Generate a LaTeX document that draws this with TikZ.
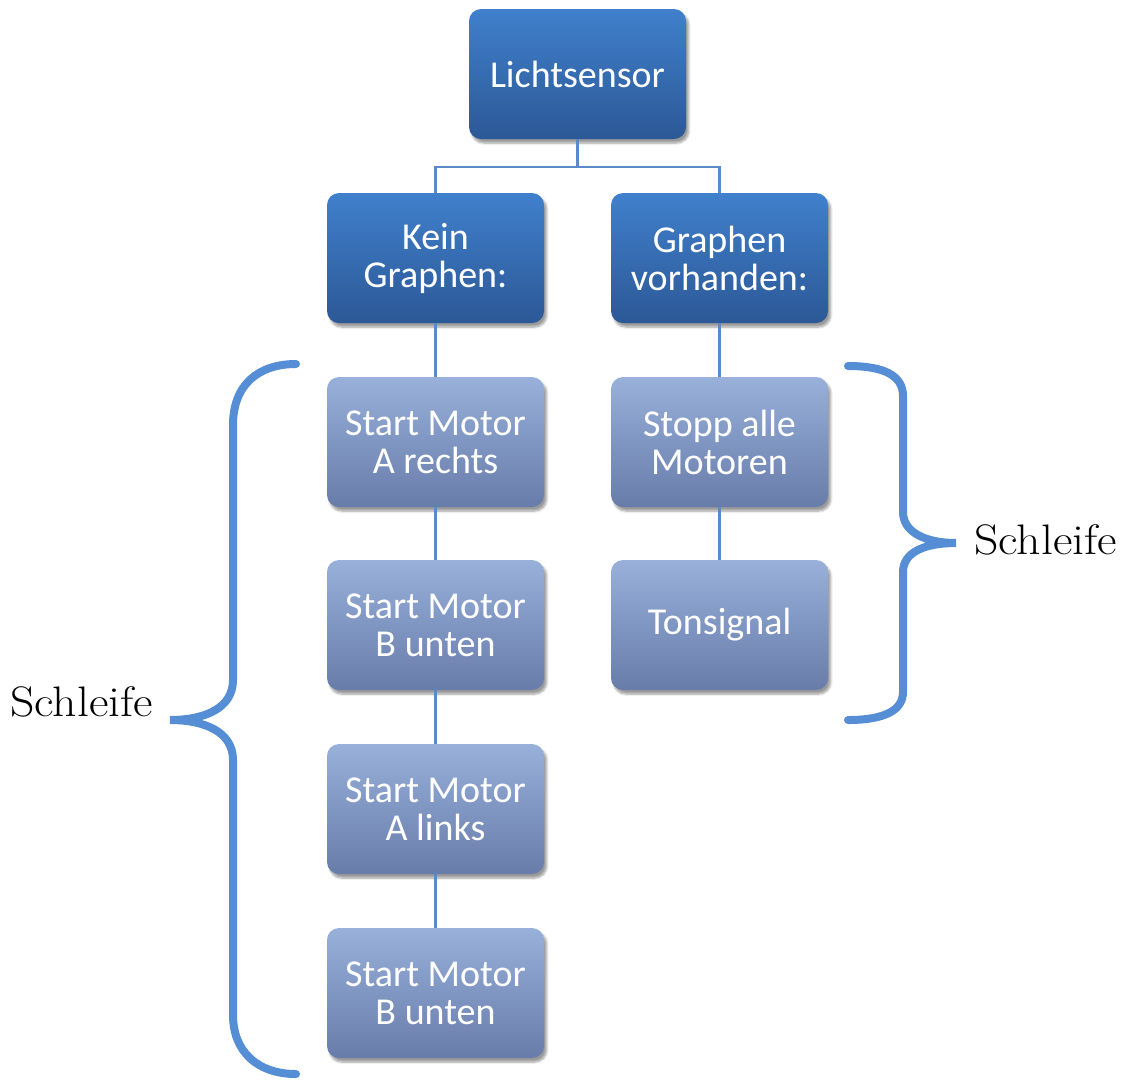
\documentclass[tikz,border=0pt]{standalone}
\usepackage{fontspec}
\usepackage{graphicx}
\newfontfamily\boxfont{Carlito}
\usetikzlibrary{shadows,shadows.blur}
\definecolor{topA}{RGB}{64,128,204}
\definecolor{botA}{RGB}{44,88,150}
\definecolor{topB}{RGB}{152,176,218}
\definecolor{botB}{RGB}{104,124,170}
\definecolor{linkc}{RGB}{90,138,200}
\definecolor{bracec}{RGB}{85,142,213}
\tikzset{
  basebox/.style={rounded corners=9pt, minimum width=162.75pt, minimum height=97.5pt,
    text=white, align=center, inner sep=0pt,
    font=\boxfont\fontsize{28.5}{28.5}\selectfont,
    blur shadow={shadow xshift=2pt, shadow yshift=-3pt, shadow blur steps=6, shadow opacity=40}},
  darkbox/.style={basebox, top color=topA, bottom color=botA},
  lightbox/.style={basebox, top color=topB, bottom color=botB},
  link/.style={draw=linkc, line width=2.2pt},
  bracel/.style={draw=bracec, line width=6pt, line cap=round},
  lbl/.style={font=\fontsize{32}{36}\selectfont, inner sep=0pt}
}
\begin{document}
\begin{tikzpicture}[x=0.75pt,y=-0.75pt]
\useasboundingbox (0,0) rectangle (1130,1079);
% nodes
\node[darkbox] (ls) at (577.5,74) {Lichtsensor};
\node[darkbox] (kg) at (435.5,258) {Kein\\Graphen:};
\node[darkbox] (gv) at (719.5,258) {Graphen\\vorhanden:};
\node[lightbox] (a1) at (435.5,442) {Start Motor\\A rechts};
\node[lightbox] (b1) at (435.5,625) {Start Motor\\B unten};
\node[lightbox] (a2) at (435.5,809) {Start Motor\\A links};
\node[lightbox] (b2) at (435.5,993) {Start Motor\\B unten};
\node[lightbox] (st) at (719.5,442) {Stopp alle\\Motoren};
\node[lightbox] (ts) at (719.5,625) {Tonsignal};
% connectors
\coordinate (j) at (577.5,167);
\draw[link] (ls.south) -- (j);
\draw[link] (j) -| (kg.north);
\draw[link] (j) -| (gv.north);
\draw[link] (kg.south) -- (a1.north);
\draw[link] (a1.south) -- (b1.north);
\draw[link] (b1.south) -- (a2.north);
\draw[link] (a2.south) -- (b2.north);
\draw[link] (gv.south) -- (st.north);
\draw[link] (st.south) -- (ts.north);
% braces
\coordinate (lt) at (296,364);
\coordinate (lb) at (296,1074);
\coordinate (ltip) at (170,720);
\draw[bracel] (lt) .. controls (258,364) and (233,385) .. (233,425)
  -- (233,680) .. controls (233,708) and (205,720) .. (ltip)
  .. controls (205,720) and (233,732) .. (233,760)
  -- (233,1015) .. controls (233,1052) and (258,1074) .. (lb);
\coordinate (rt) at (848,366);
\coordinate (rb) at (848,720);
\coordinate (rtip) at (956,543);
\draw[bracel] (rt) .. controls (885,366) and (903,376) .. (903,396)
  -- (903,512) .. controls (903,532) and (925,543) .. (rtip)
  .. controls (925,543) and (903,552) .. (903,572)
  -- (903,692) .. controls (903,710) and (885,720) .. (rb);
\node[lbl, anchor=west] (sl) at (10,702) {\scalebox{1.12}[1]{Schleife}};
\node[lbl, anchor=west] (sr) at (974,540) {\scalebox{1.12}[1]{Schleife}};
\end{tikzpicture}
\end{document}
